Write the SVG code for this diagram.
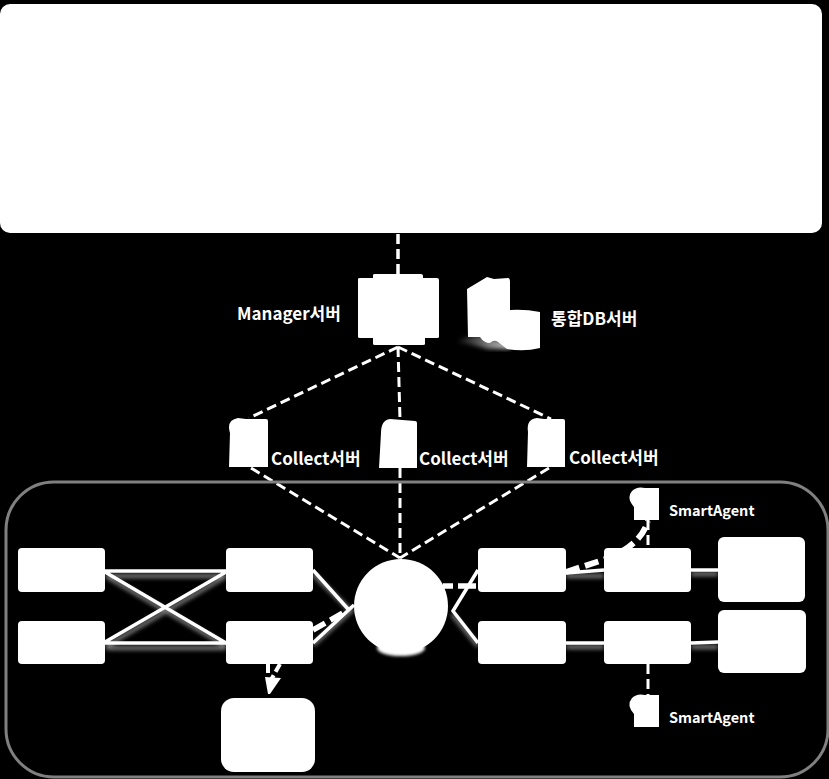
<svg xmlns="http://www.w3.org/2000/svg" width="829" height="779" viewBox="0 0 829 779">
  <style>
    .w { fill: #fff; }
    .lbl { fill: #fff; font-family: "Noto Sans CJK KR", "Noto Sans", sans-serif; font-weight: 700; font-size: 17px; }
    .sm { font-size: 14.5px; }
    .solid { fill: none; stroke: #fff; stroke-width: 3.5; }
    .dash { fill: none; stroke: #fff; stroke-width: 3; stroke-dasharray: 10 5; }
    .thick { fill: none; stroke: #fff; stroke-width: 5.5; stroke-dasharray: 14 6; }
    .halo { fill: none; stroke: #fff; stroke-width: 4; opacity: .5; filter: url(#soft); }
  </style>
  <defs>
    <filter id="soft" x="-20%" y="-20%" width="140%" height="140%"><feGaussianBlur stdDeviation="2"/></filter>
    <filter id="glow" x="-20%" y="-50%" width="140%" height="200%"><feGaussianBlur stdDeviation="1.6"/></filter>
    <linearGradient id="shade" x1="1" y1="0" x2="0" y2="0">
      <stop offset="0" stop-color="#ccc"/><stop offset="1" stop-color="#ccc" stop-opacity="0"/>
    </linearGradient>
  </defs>
  <rect width="829" height="779" fill="#000"/>

  <g id="connectors">
    <path class="dash" style="stroke-width:3.5" d="M398 234V274"/>
    <path class="dash" d="M398 347L249 418M398 347L400 420M398 347L551 419"/>
    <path class="dash" d="M251 468L400 558M400 468V558M549 468L400 558"/>
    <path class="halo" d="M106 573H226M106 645H226M106 573L226 643M106 643L226 573M313 571L350 607M313 642L353 606M452 611L478 643M566 644H604M691 644H718M566 573H604M691 571H718" transform="translate(0,3)"/>
    <path class="solid" d="M105 571H226M105 643H226M105 572L226 643M105 642L226 572"/>
    <path class="solid" d="M313 570L348 609M313 643L354 605"/>
    <path class="solid" d="M478 570L453 611L478 643"/>
    <path class="solid" d="M566 573L604 570M691 570H718M566 643H604M691 643L718 642"/>
    <path class="thick" style="stroke-dasharray:10 5 18 20" d="M443 586H478"/>
    <path class="thick" d="M313 630L346 611"/>
    <path class="thick" style="stroke-width:6" d="M566 572L603 560Q640 547 648 521"/>
    <path class="dash" d="M648 520V548M648 664V695"/>
    <path class="thick" style="stroke-width:4;stroke-dasharray:9 4" d="M280 664L271 680M268 664V677"/>
    <polygon class="w" points="265,677 281,678 270,694 268,694"/>
  </g>

  <g id="top-panel"><rect class="w" x="0" y="4" width="822" height="229" rx="10"/></g>

  <g id="manager-server">
    <path class="w" d="M358 279Q358 278 360 278H373V275Q373 274 375 274H421Q423 274 423 276V278H437Q439 278 439 280V337Q439 338 437 338H425V344Q425 345 423 345H375Q373 345 373 344V338H360Q358 338 358 337Z"/>
    <text class="lbl" x="237" y="320">Manager서버</text>
  </g>

  <g id="db-server">
    <path d="M455 342Q470 334 484 336L510 344V349H488Q470 344 455 342Z" fill="url(#shade)" filter="url(#soft)"/>
    <path class="w" d="M467 289L487 277L494 279L508 278Q510 278 510 282L510 310Q525 309 540 312V348Q524 352 507 349L498 342Q494 339 490 343Q484 343 480 337L468 337Z"/>
    <text class="lbl" x="551" y="325">통합DB서버</text>
  </g>

  <g id="collect-1">
    <path class="w" d="M230 433Q226 420 238 418L246 419H266Q268 419 268 421V467H229Z"/>
    <text class="lbl" x="271" y="465">Collect서버</text>
  </g>
  <g id="collect-2">
    <path class="w" d="M381 433Q381 420 390 419L415 421Q417 421 417 423V468H379Z"/>
    <text class="lbl" x="419" y="465">Collect서버</text>
  </g>
  <g id="collect-3">
    <path class="w" d="M528 432Q526 419 537 418L544 419H563Q565 419 565 421V467H527Z"/>
    <text class="lbl" x="569" y="464">Collect서버</text>
  </g>

  <g id="network-zone">
    <rect x="6" y="482" width="822" height="295" rx="48" fill="none" stroke="#808080" stroke-width="3"/>
  </g>

  <g id="box-left-1"><rect class="w" x="18" y="548" width="87" height="44" rx="4"/></g>
  <g id="box-left-2"><rect class="w" x="18" y="621" width="87" height="43" rx="4"/></g>
  <g id="box-mid-1"><rect class="w" x="226" y="548" width="87" height="44" rx="4"/></g>
  <g id="box-mid-2"><rect class="w" x="226" y="621" width="87" height="43" rx="4"/></g>
  <g id="box-bottom"><rect class="w" x="221" y="698" width="94" height="74" rx="13"/></g>

  <g id="hub">
    <ellipse class="w" cx="401" cy="648" rx="24" ry="8" filter="url(#glow)"/>
    <circle class="w" cx="401" cy="606" r="47"/>
  </g>

  <g id="box-right-1"><rect class="w" x="478" y="548" width="88" height="44" rx="4"/></g>
  <g id="box-right-2"><rect class="w" x="478" y="621" width="88" height="43" rx="4"/></g>
  <g id="box-right-3"><rect class="w" x="604" y="548" width="87" height="44" rx="4"/></g>
  <g id="box-right-4"><rect class="w" x="604" y="621" width="87" height="43" rx="4"/></g>
  <g id="box-far-1"><rect class="w" x="718" y="537" width="87" height="65" rx="6"/></g>
  <g id="box-far-2"><rect class="w" x="718" y="610" width="88" height="63" rx="6"/></g>

  <g id="agent-1">
    <path class="w" d="M634 507Q626 498 632 491Q637 486 645 488H659V520H634Z"/>
    <text class="lbl sm" x="669" y="516">SmartAgent</text>
  </g>
  <g id="agent-2">
    <path class="w" d="M634 714Q626 705 632 698Q637 693 645 695H659V727H634Z"/>
    <text class="lbl sm" x="669" y="723">SmartAgent</text>
  </g>
</svg>
